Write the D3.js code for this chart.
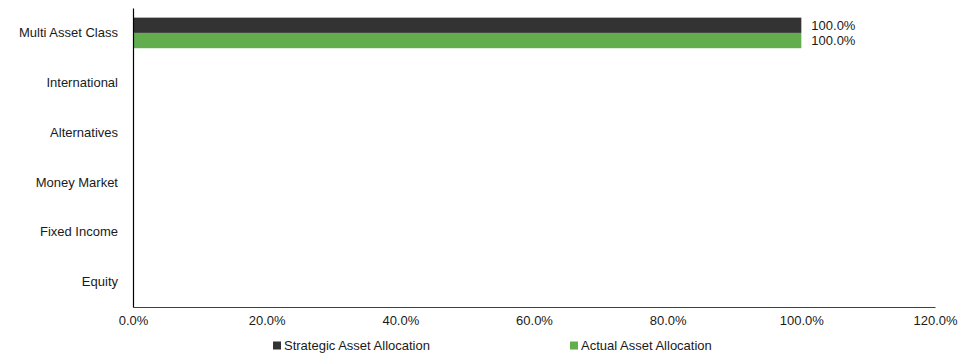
<!DOCTYPE html>
<html>
<head>
<meta charset="utf-8">
<script src="https://cdn.jsdelivr.net/npm/d3@7"></script>
<style>
  body { margin: 0; background: #fff; }
  svg text { font-family: "Liberation Sans", Arial, sans-serif; fill: #1a1a1a; }
</style>
</head>
<body>
<svg id="chart" width="976" height="357"></svg>
<script>
// Asset classes, top to bottom
const categories = ["Multi Asset Class", "International", "Alternatives", "Money Market", "Fixed Income", "Equity"];
const seriesNames = ["Strategic Asset Allocation", "Actual Asset Allocation"];
const strategicValues = [100, null, null, null, null, null];
const actualValues = [100, null, null, null, null, null];
const xTicks = [0, 20, 40, 60, 80, 100, 120];
const seriesColors = ["#333333", "#62ae4f"];

const svg = d3.select("#chart");
const margin = { top: 8, left: 133, right: 41, bottom: 50 };
const width = 976 - margin.left - margin.right;
const height = 357 - margin.top - margin.bottom;
const g = svg.append("g").attr("transform", `translate(${margin.left},${margin.top})`);

const x = d3.scaleLinear().domain([0, 120]).range([0, width]);
const y = d3.scaleBand().domain(categories).range([0, height]).padding(0);
const ySub = d3.scaleBand().domain(seriesNames).range([0, y.bandwidth()])
  .paddingInner(0).paddingOuter(0.63);

const seriesValues = [strategicValues, actualValues];
const rows = [];
seriesNames.forEach((s, si) => {
  categories.forEach((c, ci) => {
    rows.push({ series: s, si, category: c, value: seriesValues[si][ci] });
  });
});
const present = rows.filter(d => d.value != null);

g.selectAll("rect.bar").data(present).join("rect")
  .attr("class", "bar")
  .attr("x", x(0))
  .attr("y", d => y(d.category) + ySub(d.series))
  .attr("width", d => x(d.value) - x(0))
  .attr("height", ySub.bandwidth())
  .attr("fill", d => seriesColors[d.si]);

g.selectAll("text.val").data(present).join("text")
  .attr("class", "val")
  .attr("x", d => x(d.value) + 10)
  .attr("y", d => y(d.category) + ySub(d.series) + ySub.bandwidth() / 2)
  .attr("dy", "0.35em")
  .attr("font-size", 13)
  .text(d => d.value.toFixed(1) + "%");

// X axis
const xAxis = g.append("g").attr("transform", `translate(0,${height})`)
  .call(d3.axisBottom(x).tickValues(xTicks).tickSize(0).tickPadding(9)
    .tickFormat(d => d.toFixed(1) + "%"));
xAxis.select(".domain").attr("stroke", "#404040").attr("stroke-width", 1.2);
xAxis.selectAll("text").attr("font-size", 13).attr("fill", "#1a1a1a");

// Y axis
const yAxis = g.append("g")
  .call(d3.axisLeft(y).tickSize(0).tickPadding(15));
yAxis.select(".domain").attr("stroke", "#000").attr("stroke-width", 1.2);
yAxis.selectAll("text").attr("font-size", 13).attr("fill", "#1a1a1a");

// Legend
const legendX = [273, 570];
const legend = svg.append("g");
seriesNames.forEach((s, i) => {
  legend.append("rect").attr("x", legendX[i]).attr("y", 341.5)
    .attr("width", 8).attr("height", 8).attr("fill", seriesColors[i]);
  legend.append("text").attr("x", legendX[i] + 11).attr("y", 345.5)
    .attr("dy", "0.35em").attr("font-size", 13).text(s);
});
</script>
</body>
</html>
